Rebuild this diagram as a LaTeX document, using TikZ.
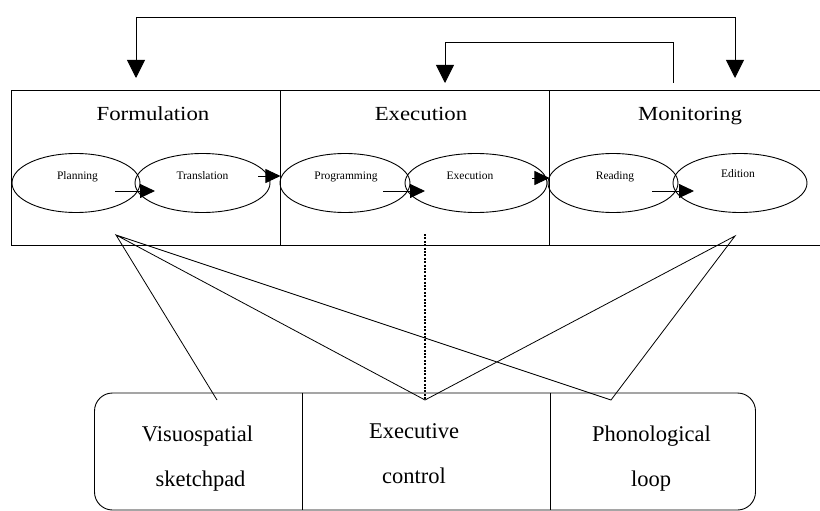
\documentclass[tikz,border=0pt]{standalone}
\usepackage{graphicx}
\usepackage{fontspec}
\setmainfont{Liberation Serif}
\usetikzlibrary{shapes.geometric,arrows.meta,calc}
\newcommand\wideT[1]{\scalebox{1.14}[1]{#1}}
\begin{document}
\begin{tikzpicture}[x=1pt,y=-1pt,line width=0.9pt,
  stagebox/.style={draw,rectangle,inner sep=0pt,minimum width=269pt,minimum height=155pt},
  title/.style={anchor=base,inner sep=0pt,font=\fontsize{20}{24}\selectfont},
  ell/.style={draw,ellipse,inner sep=0pt,minimum height=59pt},
  lbl/.style={anchor=base,inner sep=0pt,font=\fontsize{11.5}{13}\selectfont},
  btxt/.style={anchor=base,inner sep=0pt,font=\fontsize{22.5}{26}\selectfont},
  sarr/.style={-{Triangle[length=15pt,width=14pt]}},
  bigtip/.style={-{Triangle[length=18pt,width=18pt]}},
  bigboth/.style={{Triangle[length=18pt,width=18pt]}-{Triangle[length=18pt,width=18pt]}},
  dotline/.style={line width=1.7pt,dash pattern=on 2pt off 1.4pt}]
\useasboundingbox (0,0) rectangle (820,511);
\clip (0,0) rectangle (820,511);

% top boxes
\node[stagebox] (box1) at (145.5,167.5) {};
\node[stagebox] (box2) at (414.5,167.5) {};
\node[stagebox,minimum width=281pt] (box3) at (689.5,167.5) {};

\node[title] (tf) at (153,121) {\wideT{Formulation}};
\node[title] (te) at (421,121) {\wideT{Execution}};
\node[title] (tm) at (690,121) {\wideT{Monitoring}};

% ellipses
\node[ell,minimum width=128pt] (plan) at (76,183) {};
\node[ell,minimum width=135pt] (trans) at (202.5,183) {};
\node[ell,minimum width=130pt] (prog) at (345,183) {};
\node[ell,minimum width=142pt] (exe) at (476,183) {};
\node[ell,minimum width=130pt] (read) at (613,183) {};
\node[ell,minimum width=134pt] (edit) at (740,183) {};

\node[lbl] (lplan) at ([xshift=1.5pt,yshift=4pt]plan.center) {Planning};
\node[lbl] (ltrans) at ([yshift=4pt]trans.center) {Translation};
\node[lbl] (lprog) at ([xshift=1pt,yshift=4pt]prog.center) {Programming};
\node[lbl] (lexe) at ([xshift=-6pt,yshift=4pt]exe.center) {Execution};
\node[lbl] (lread) at ([xshift=2pt,yshift=4pt]read.center) {Reading};
\node[lbl] (ledit) at ([xshift=-2pt,yshift=6pt]edit.center) {Edition};

% arrows inside boxes
\draw[sarr] ([xshift=39pt,yshift=-8pt]plan.center) -- ([xshift=-47.5pt,yshift=-8pt]trans.center);
\draw[sarr] ([xshift=38pt,yshift=-8pt]prog.center) -- ([xshift=-51pt,yshift=-8pt]exe.center);
\draw[sarr] ([xshift=39pt,yshift=-8pt]read.center) -- ([xshift=-46pt,yshift=-8pt]edit.center);

% arrows between boxes
\draw[sarr] ([xshift=-12pt,yshift=7pt]trans.east) -- ([yshift=7pt]trans.east -| box1.east);
\draw[sarr] ([xshift=-15pt,yshift=5pt]exe.east) -- ([yshift=5pt]exe.east -| box2.east);

% feedback connectors on top
\coordinate (t1) at (136,78);
\coordinate (t3) at (735,78);
\coordinate (t2) at (445,83);
\coordinate (s3) at (673,83);
\draw[bigboth] (t1) -- (136,17) -- (735,17) -- (t3);
\draw[bigtip] (s3) -- (673,42) -- (445,42) -- (t2);

% lines to memory components
\coordinate (apL) at (116,235);
\coordinate (apR) at (735,236);
\coordinate (eV) at (217,400);
\coordinate (eE) at (425,400);
\coordinate (eP) at (611,400);
\draw[line width=0.8pt] (eV) -- (apL) -- (eE) -- (apR) -- (eP) -- (apL);
\draw[dotline] (425,234) -- (eE);

% working memory box
\node[draw,rounded corners=18pt,inner sep=0pt,minimum width=661pt,minimum height=117pt] (mem) at (425,451.5) {};
\draw (mem.north -| 302,0) -- (mem.south -| 302,0);
\draw (mem.north -| 550,0) -- (mem.south -| 550,0);

\node[btxt] (vis1) at (197.5,441) {Visuospatial};
\node[btxt] (vis2) at (200.5,486) {sketchpad};
\node[btxt] (exc1) at (414,438) {Executive};
\node[btxt] (exc2) at (414,483) {control};
\node[btxt] (pho1) at (651.5,441) {Phonological};
\node[btxt] (pho2) at (651,486) {loop};
\end{tikzpicture}
\end{document}
